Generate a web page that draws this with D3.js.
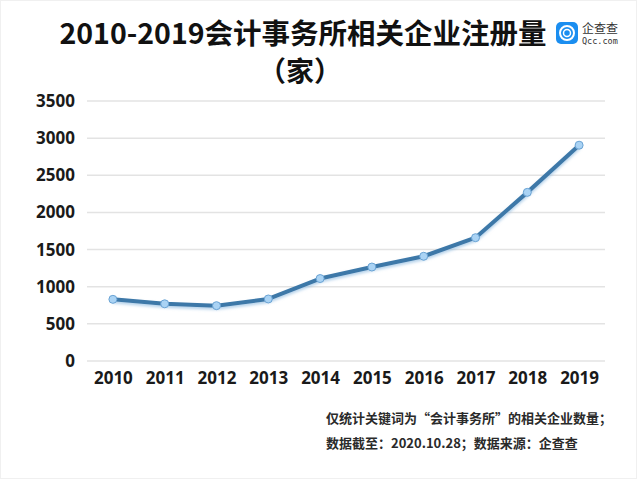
<!DOCTYPE html>
<html>
<head>
<meta charset="utf-8">
<script src="https://cdn.jsdelivr.net/npm/d3@7"></script>
<style>
  html, body { margin: 0; padding: 0; background: #fff; }
  svg { display: block; font-family: 'Noto Sans CJK SC', 'Noto Sans', sans-serif; }
</style>
</head>
<body>
<div id="chart"></div>
<script>
// data
const years = ['2010', '2011', '2012', '2013', '2014', '2015', '2016', '2017', '2018', '2019'];
const counts = [830, 770, 745, 835, 1110, 1265, 1410, 1660, 2270, 2905];
const yTicks = [0, 500, 1000, 1500, 2000, 2500, 3000, 3500];

const width = 640;
const height = 480;
const margin = { top: 101, right: 35, bottom: 119, left: 87 };

const svg = d3.select('#chart')
  .append('svg')
  .attr('width', width)
  .attr('height', height);

// faint frame like the screenshot
svg.append('rect')
  .attr('x', 0.5).attr('y', 0.5)
  .attr('width', width - 4).attr('height', height - 2)
  .attr('fill', '#fff')
  .attr('stroke', '#f0f0f0');

const x = d3.scalePoint()
  .domain(years)
  .range([margin.left, width - margin.right])
  .padding(0.5);

const y = d3.scaleLinear()
  .domain([0, 3500])
  .range([height - margin.bottom, margin.top]);

// gridlines
svg.append('g')
  .selectAll('line')
  .data(yTicks)
  .enter()
  .append('line')
  .attr('x1', margin.left)
  .attr('x2', width - margin.right)
  .attr('y1', (d) => y(d))
  .attr('y2', (d) => y(d))
  .attr('stroke', '#e3e3e3')
  .attr('stroke-width', 1.5);

// y axis labels
const yAxis = svg.append('g')
  .attr('transform', `translate(${margin.left},0)`)
  .call(d3.axisLeft(y).tickValues(yTicks).tickFormat(d3.format('d')).tickSize(0).tickPadding(12));
yAxis.select('.domain').remove();
yAxis.selectAll('text')
  .attr('font-size', '17px')
  .attr('font-weight', 'bold')
  .attr('fill', '#1a1a1a')
  .style('font-family', "'Noto Sans', 'Open Sans', sans-serif");

// x axis labels
const xAxis = svg.append('g')
  .attr('transform', `translate(0,${height - margin.bottom})`)
  .call(d3.axisBottom(x).tickSize(0).tickPadding(11));
xAxis.select('.domain').remove();
xAxis.selectAll('text')
  .attr('font-size', '17px')
  .attr('font-weight', 'bold')
  .attr('fill', '#1a1a1a')
  .style('font-family', "'Noto Sans', 'Open Sans', sans-serif");

// line with soft shadow
const defs = svg.append('defs');
const shadow = defs.append('filter').attr('id', 'shadow')
  .attr('x', '-10%').attr('y', '-10%').attr('width', '120%').attr('height', '130%');
shadow.append('feDropShadow')
  .attr('dx', 0).attr('dy', 2).attr('stdDeviation', 1.8)
  .attr('flood-color', '#7fb0dc').attr('flood-opacity', 0.6);

const pts = years.map((yr, i) => ({ year: yr, value: counts[i] }));

const line = d3.line()
  .x((d) => x(d.year))
  .y((d) => y(d.value));

svg.append('path')
  .datum(pts)
  .attr('d', line)
  .attr('fill', 'none')
  .attr('stroke', '#3c78a8')
  .attr('stroke-width', 4)
  .attr('stroke-linejoin', 'round')
  .attr('filter', 'url(#shadow)');

svg.append('g')
  .selectAll('circle')
  .data(pts)
  .enter()
  .append('circle')
  .attr('cx', (d) => x(d.year))
  .attr('cy', (d) => y(d.value))
  .attr('r', 4)
  .attr('fill', '#aad3f4')
  .attr('stroke', '#6aa3d4')
  .attr('stroke-width', 1);

// title
svg.append('text')
  .attr('x', 303)
  .attr('y', 44)
  .attr('text-anchor', 'middle')
  .attr('font-size', '28.5px')
  .attr('font-weight', 'bold')
  .attr('fill', '#111')
  .text('2010-2019会计事务所相关企业注册量');

svg.append('text')
  .attr('x', 300)
  .attr('y', 82)
  .attr('text-anchor', 'middle')
  .attr('font-size', '28px')
  .attr('font-weight', 'bold')
  .attr('fill', '#111')
  .text('（家）');

// logo
const logo = svg.append('g').attr('transform', 'translate(556,22)');
logo.append('rect')
  .attr('width', 22).attr('height', 22).attr('rx', 5)
  .attr('fill', '#1b8ef0');
logo.append('circle')
  .attr('cx', 11).attr('cy', 11).attr('r', 7)
  .attr('fill', 'none').attr('stroke', '#fff').attr('stroke-width', 2);
logo.append('circle')
  .attr('cx', 11).attr('cy', 11).attr('r', 3.5)
  .attr('fill', 'none').attr('stroke', '#fff').attr('stroke-width', 1.5);
logo.append('text')
  .attr('x', 26).attr('y', 11)
  .attr('font-size', '12px')
  .attr('fill', '#333')
  .text('企查查');
logo.append('text')
  .attr('x', 26).attr('y', 22)
  .attr('font-size', '8.5px')
  .attr('fill', '#333')
  .style('font-family', "'DejaVu Sans Mono', monospace")
  .text('Qcc.com');

// footnote
const note = svg.append('g')
  .attr('font-size', '13px')
  .attr('font-weight', 'bold')
  .attr('fill', '#2a2a2a');
note.append('text')
  .attr('x', 326).attr('y', 423)
  .text('仅统计关键词为“会计事务所”的相关企业数量；');
note.append('text')
  .attr('x', 326).attr('y', 448)
  .text('数据截至：2020.10.28；数据来源：企查查');
</script>
</body>
</html>
